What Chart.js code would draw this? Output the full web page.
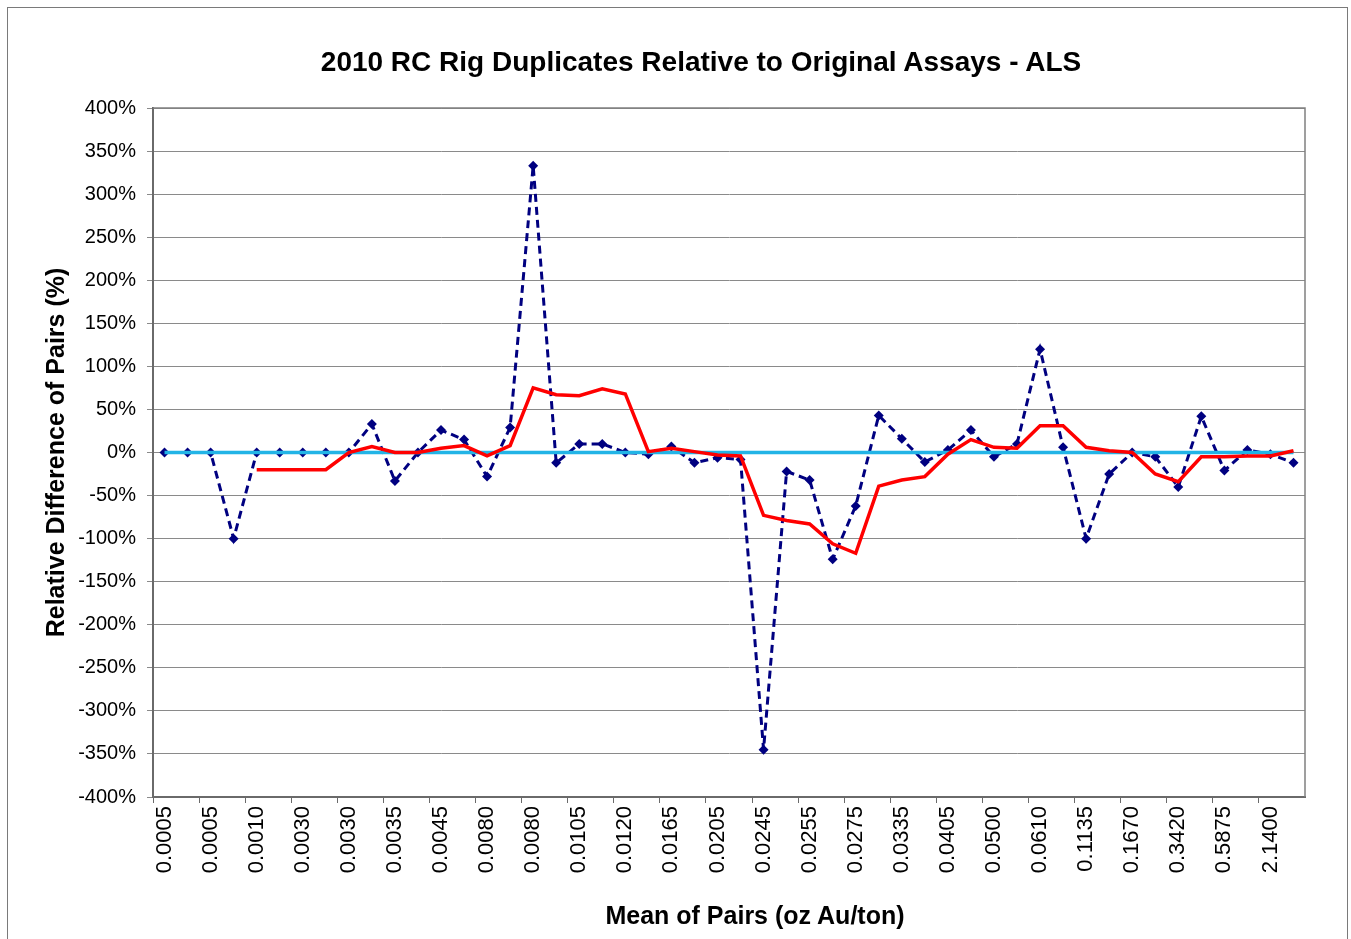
<!DOCTYPE html>
<html>
<head>
<meta charset="utf-8">
<script src="https://cdn.jsdelivr.net/npm/chart.js@4.4.1/dist/chart.umd.min.js"></script>
<style>
  html, body { margin: 0; padding: 0; background: #fff; }
  #wrap { position: relative; width: 1351px; height: 939px; overflow: hidden; font-family: "Liberation Sans", Arial, sans-serif; }
  #frame { position: absolute; left: 7px; top: 7px; width: 1341px; height: 945px; border: 1px solid #7a7a7a; box-sizing: border-box; }
  #chart { position: absolute; left: 0; top: 0; }
  .ttl { position: absolute; font-weight: bold; color: #000; white-space: nowrap; transform: translate(-50%, -50%); }
  #mainTitle { left: 701px; top: 62px; font-size: 28px; }
  #xTitle { left: 755px; top: 915px; font-size: 25px; }
</style>
</head>
<body>
<div id="wrap">
  <div id="frame"></div>
  <canvas id="chart" width="1351" height="939"></canvas>
  <div class="ttl" id="mainTitle">2010 RC Rig Duplicates Relative to Original Assays - ALS</div>
  <div class="ttl" id="xTitle">Mean of Pairs (oz Au/ton)</div>
</div>
<script>
// every other category carries a label on the axis
const tickLabels = ['0.0005', '0.0005', '0.0010', '0.0030', '0.0030', '0.0035', '0.0045', '0.0080',
  '0.0080', '0.0105', '0.0120', '0.0165', '0.0205', '0.0245', '0.0255', '0.0275', '0.0335',
  '0.0405', '0.0500', '0.0610', '0.1135', '0.1670', '0.3420', '0.5875', '2.1400'];

// relative difference of each pair (%)
const pairDiff = [0, 0, 0, -100, 0, 0, 0, 0, 0, 33, -33, 0, 26, 15, -28, 29, 333, -12, 10, 10,
  0, -2, 7, -12, -6, -8, -345, -22, -32, -124, -62, 43, 16, -11, 3, 26, -5, 10, 120, 6,
  -100, -25, 0, -5, -40, 42, -21, 3, -2, -12];

// red trend line
const trend = [null, null, null, null, -20, -20, -20, -20, 0, 7, 0, 0, 5, 8, -4, 8, 75, 67, 66, 74,
  68, 1, 5, 1, -3, -4, -73, -79, -83, -106, -117, -39, -32, -28, -2, 15, 6, 5, 31, 31,
  6, 2, 0, -25, -34, -5, -5, -4, -4, 2];

const zeroLine = pairDiff.map(() => 0);

const categories = [];
tickLabels.forEach(l => { categories.push(l); categories.push(''); });

const FONT = '"Liberation Sans", Arial, sans-serif';

const plotFrame = {
  id: 'plotFrame',
  beforeDatasetsDraw(chart) {
    const { ctx, chartArea: a } = chart;
    ctx.save();
    ctx.strokeStyle = '#808080';
    ctx.lineWidth = 1.5;
    ctx.beginPath();
    ctx.moveTo(a.left, a.top);
    ctx.lineTo(a.right, a.top);
    ctx.lineTo(a.right, a.bottom);
    ctx.stroke();
    ctx.restore();
  }
};

new Chart(document.getElementById('chart'), {
  type: 'line',
  data: {
    labels: categories,
    datasets: [
      {
        data: trend,
        borderColor: '#ff0000',
        borderWidth: 3.5,
        pointRadius: 0,
        tension: 0,
        order: 1
      },
      {
        data: zeroLine,
        borderColor: '#22b4e6',
        borderWidth: 3.5,
        pointRadius: 0,
        order: 2
      },
      {
        data: pairDiff,
        borderColor: '#000080',
        borderWidth: 3,
        borderDash: [8, 5],
        pointStyle: 'rectRot',
        pointRadius: 5,
        pointBackgroundColor: '#000080',
        pointBorderColor: '#000080',
        pointBorderWidth: 0,
        order: 3
      }
    ]
  },
  options: {
    responsive: false,
    animation: false,
    devicePixelRatio: 1,
    layout: { padding: { left: 0, top: 108, right: 46, bottom: 0 } },
    plugins: { legend: { display: false }, tooltip: { enabled: false } },
    scales: {
      x: {
        offset: true,
        afterFit(s) { s.height = 142; },
        grid: {
          offset: true,
          drawOnChartArea: false,
          drawTicks: true,
          tickLength: 6,
          color: c => (c.index % 2 === 0 ? '#6a6a6a' : 'rgba(0,0,0,0)')
        },
        border: { color: '#6a6a6a', width: 2 },
        ticks: {
          autoSkip: false,
          minRotation: 90,
          maxRotation: 90,
          padding: 3,
          color: '#000',
          font: { family: FONT, size: 22 }
        }
      },
      y: {
        min: -400,
        max: 400,
        afterFit(s) { s.width = 153; },
        grid: { color: '#8a8a8a', lineWidth: 1, tickLength: 6 },
        border: { color: '#6a6a6a', width: 2 },
        ticks: {
          stepSize: 50,
          padding: 11,
          color: '#000',
          font: { family: FONT, size: 20 },
          callback: v => v + '%'
        },
        title: {
          display: true,
          text: 'Relative Difference of Pairs (%)',
          color: '#000',
          font: { family: FONT, size: 25, weight: 'bold' },
          padding: { top: 42, bottom: 0 }
        }
      }
    }
  },
  plugins: [plotFrame]
});
</script>
</body>
</html>
